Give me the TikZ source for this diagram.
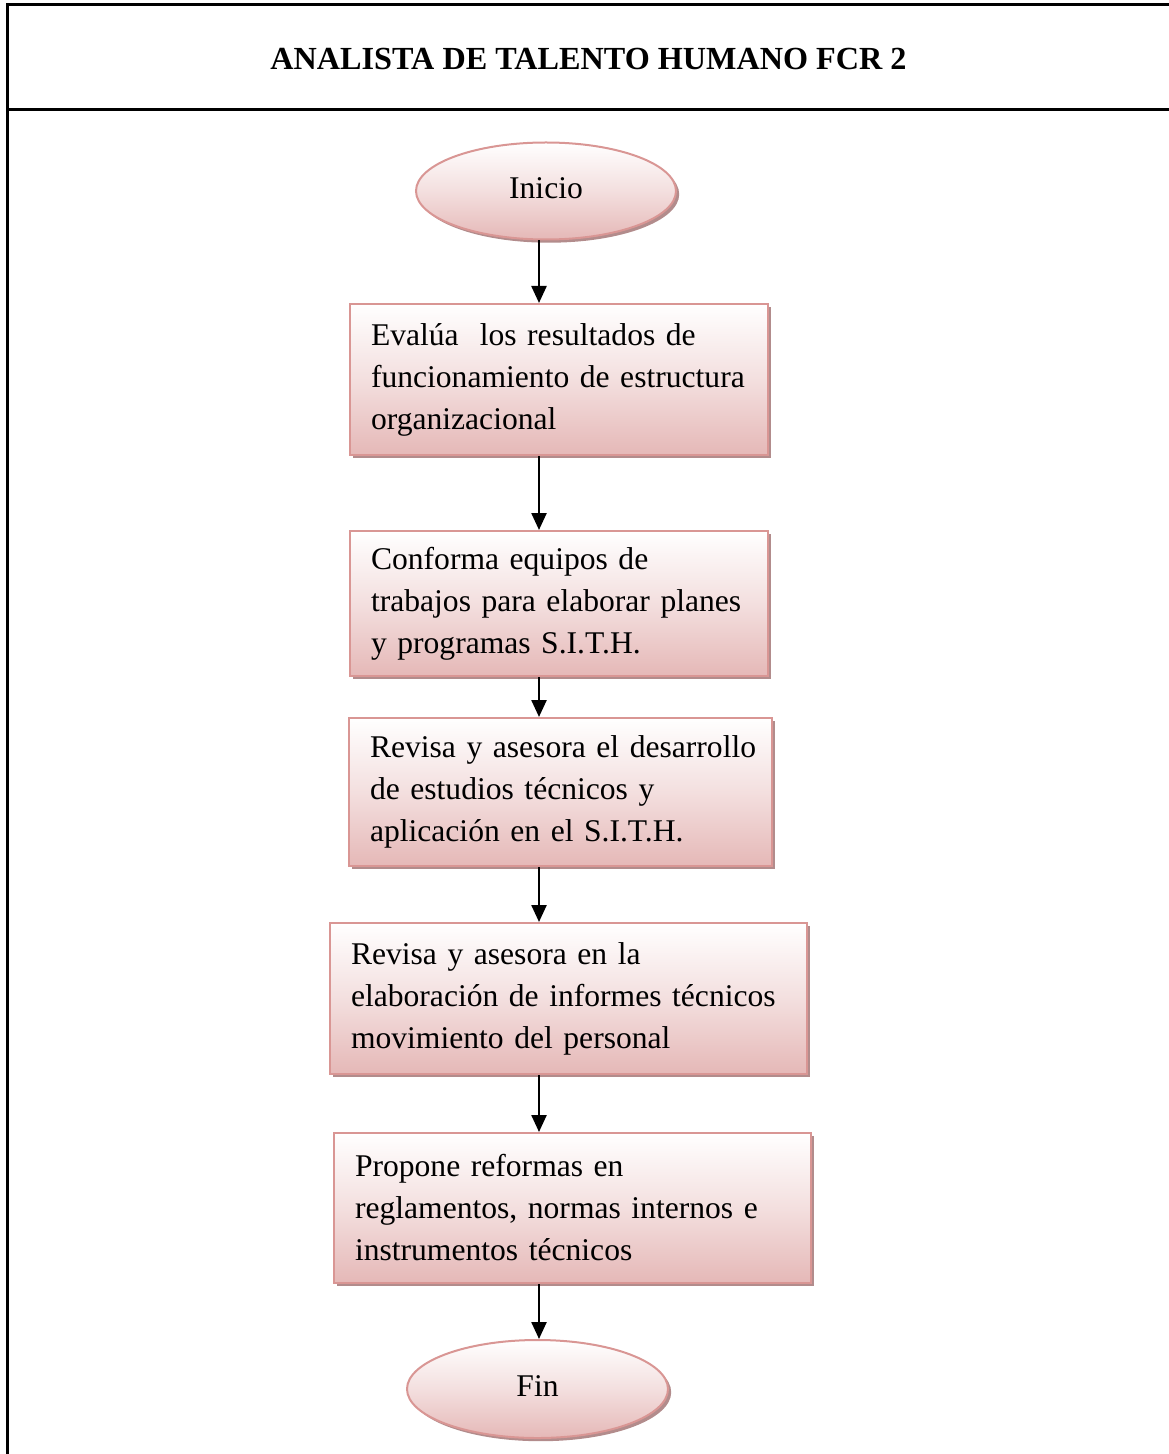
\documentclass[tikz,border=0pt]{standalone}
\usepackage{fontspec}
\setmainfont{Liberation Serif}
\usetikzlibrary{shapes.geometric,shadows,arrows.meta}
\hbadness=10000\relax
\hfuzz=30pt\relax
\definecolor{pinkborder}{RGB}{217,150,148}
\definecolor{pinkfill}{RGB}{229,184,183}
\definecolor{pinkshadow}{RGB}{178,140,140}
\tikzset{
  frameline/.style={line width=1.5pt, black},
  stepbox/.style={rectangle, draw=pinkborder, line width=1pt,
    top color=white, bottom color=pinkfill, middle color={pinkfill!45!white},
    drop shadow={fill=pinkshadow, opacity=1, shadow xshift=1.6pt, shadow yshift=-1.6pt},
    align=left, inner xsep=10.5pt, inner ysep=0pt,
    font=\fontsize{15.8pt}{21pt}\selectfont},
  termnode/.style={ellipse, draw=pinkborder, line width=1pt,
    top color=white, bottom color=pinkfill, middle color={pinkfill!45!white},
    drop shadow={fill=pinkshadow, opacity=1, shadow xshift=1.6pt, shadow yshift=-1.6pt},
    inner sep=0pt, font=\fontsize{15.8pt}{18pt}\selectfont},
  arr/.style={line width=1.2pt, -{Triangle[width=7.5pt,length=8.5pt]}},
}
\begin{document}
\begin{tikzpicture}[x=0.5pt,y=-0.5pt]
\useasboundingbox (0,0) rectangle (1168,1454);
% frame
\coordinate (fTL) at (7,5);
\coordinate (fTR) at (1170,5);
\coordinate (fBL) at (7,1456);
\coordinate (dL) at (7,110);
\coordinate (dR) at (1170,110);
\draw[frameline] (fTR) -- (fTL) -- (fBL);
\draw[frameline] (dL) -- (dR);
\node[font=\fontsize{16.1pt}{18pt}\selectfont\bfseries] (title) at (588.5,59) {ANALISTA DE TALENTO HUMANO FCR 2};
% nodes
\node[termnode, minimum width=130pt, minimum height=48.5pt] (ini) at (546,191) {\raisebox{2.5pt}{Inicio}};
\node[stepbox, minimum width=209pt, minimum height=75.5pt, text width=188pt] (b1) at (559,379.5)
  {\mbox{Evalúa\ \ los resultados de}\\\mbox{funcionamiento de estructura}\\organizacional};
\node[stepbox, minimum width=209pt, minimum height=72.5pt, text width=188pt] (b2) at (559,603.5)
  {\mbox{Conforma equipos de}\\\mbox{trabajos para elaborar planes}\\\mbox{y programas S.I.T.H.}};
\node[stepbox, minimum width=211.5pt, minimum height=74pt, text width=190.5pt] (b3) at (560.5,792)
  {\mbox{Revisa y asesora el desarrollo}\\\mbox{de estudios técnicos y}\\\mbox{aplicación en el S.I.T.H.}};
\node[stepbox, minimum width=238.5pt, minimum height=75.5pt, text width=217.5pt] (b4) at (568.5,998.5)
  {\mbox{Revisa y asesora en la}\\\mbox{elaboración de informes técnicos}\\\mbox{movimiento del personal}};
\node[stepbox, minimum width=238.5pt, minimum height=75pt, text width=217.5pt] (b5) at (572.5,1208)
  {\mbox{Propone reformas en}\\\mbox{reglamentos, normas internos e}\\\mbox{instrumentos técnicos}};
\node[termnode, minimum width=130.5pt, minimum height=49pt] (fin) at (537.5,1389) {\raisebox{3pt}{Fin}};
% connectors
\coordinate (ax) at (539,0);
\draw[arr] (ini.south -| ax) -- (b1.north -| ax);
\draw[arr] (b1.south -| ax) -- (b2.north -| ax);
\draw[arr] (b2.south -| ax) -- (b3.north -| ax);
\draw[arr] (b3.south -| ax) -- (b4.north -| ax);
\draw[arr] (b4.south -| ax) -- (b5.north -| ax);
\draw[arr] (b5.south -| ax) -- (fin.north -| ax);
\end{tikzpicture}
\end{document}
